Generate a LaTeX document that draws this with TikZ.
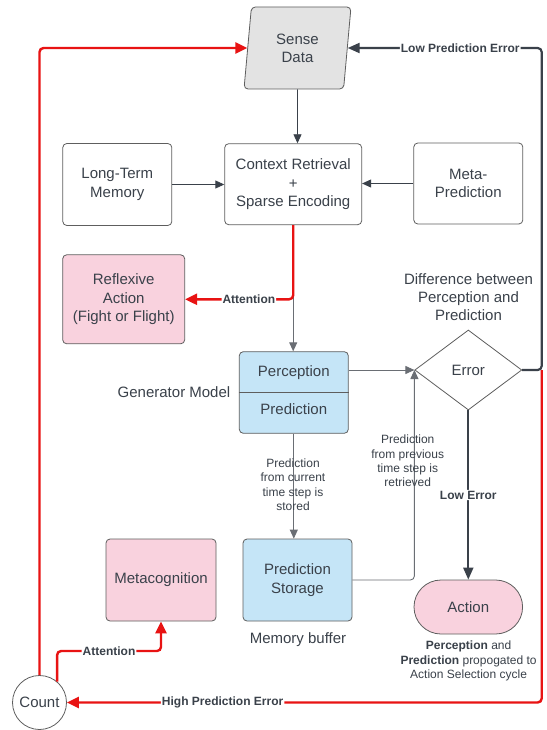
\documentclass[tikz,border=0pt]{standalone}
\usepackage{fontspec}
\setmainfont{Liberation Sans}
\usetikzlibrary{arrows.meta,shapes.geometric}
\definecolor{txt}{HTML}{3A414A}
\definecolor{ln}{HTML}{5E5E5E}
\definecolor{redl}{HTML}{E81313}
\definecolor{pinkf}{HTML}{F9D2DE}
\definecolor{bluef}{HTML}{C5E5F7}
\definecolor{grayf}{HTML}{E3E3E3}
\definecolor{darkl}{HTML}{3A414A}
\definecolor{thinl}{HTML}{6A6E74}
\tikzset{
 every node/.style={text=txt, font=\fontsize{15}{18.3}\selectfont},
 box/.style={draw=ln, line width=0.8pt, rounded corners=4pt, align=center, inner sep=0pt},
 dbox/.style={draw=ln, line width=0.8pt, align=center, inner sep=0pt},
 small/.style={font=\fontsize{12}{14.4}\selectfont, align=center},
 lbl/.style={font=\fontsize{12}{14.4}\selectfont\bfseries, fill=white, inner sep=1pt},
 thinarrow/.style={draw=thinl, line width=0.9pt, rounded corners=4pt, -{Triangle[length=9pt,width=8pt]}},
 redarrow/.style={draw=redl, line width=2.4pt, rounded corners=4pt, -{Triangle[length=12pt,width=11pt]}},
 darkarrow/.style={draw=darkl, line width=2.2pt, rounded corners=4pt, -{Triangle[length=12pt,width=10pt]}},
}
\begin{document}
\begin{tikzpicture}[x=1pt,y=-1pt]
\useasboundingbox[fill=white] (0,0) rectangle (546,730);

% nodes
\node[box, trapezium, trapezium left angle=75.6, trapezium right angle=104.4,
      trapezium stretches body, minimum width=107pt, minimum height=82pt, fill=grayf] (sense) at (297.5,48) {Sense\\Data};
\node[box, minimum width=109pt, minimum height=82pt] (ltm) at (117.3,184.5) {Long-Term\\Memory};
\node[box, minimum width=137pt, minimum height=81pt] (ctx) at (293.2,184.2) {Context Retrieval\\+\\Sparse Encoding};
\node[box, minimum width=109pt, minimum height=81pt] (meta) at (468.3,183.5) {Meta-\\Prediction};
\node[box, fill=pinkf, minimum width=122pt, minimum height=89pt] (reflex) at (123.7,299.3) {Reflexive\\Action\\(Fight or Flight)};
\node[align=center] (diff) at (468.5,297) {Difference between\\Perception and\\Prediction};
\node[box, fill=bluef, minimum width=109pt, minimum height=81.6pt] (gen) at (293.8,392.5) {};
\draw[draw=ln, line width=0.8pt] (gen.west) -- (gen.east);
\node (perc) at (293.8,373) {Perception};
\node (pred) at (293.8,409.3) {Prediction};
\node (genlbl) at (174,392.3) {Generator Model};
\node[dbox, diamond, minimum width=107pt, minimum height=80pt, fill=white] (err) at (468.3,370) {Error};
\node[box, fill=bluef, minimum width=109pt, minimum height=82pt] (store) at (297.5,580) {Prediction\\Storage};
\node (membuf) at (298,640) {Memory buffer};
\node[box, fill=pinkf, minimum width=110pt, minimum height=82pt] (metac) at (161,580) {Metacognition};
\node[box, fill=pinkf, rounded corners=27pt, minimum width=108.6pt, minimum height=54pt] (action) at (468.3,607) {Action};
\node[small] (acttxt) at (468.6,661) {\textbf{Perception} and\\\textbf{Prediction} propogated to\\Action Selection cycle};
\node[dbox, circle, minimum size=54pt, fill=white] (count) at (39.5,702.5) {Count};
\coordinate (rc) at (541.7,370);
\coordinate (attB) at (161,651);

% connectors
\draw[thinarrow, draw=darkl] (sense) -- (sense |- ctx.north);
\draw[thinarrow, draw=darkl] (ltm.east) -- (ltm.east -| ctx.west);
\draw[thinarrow, draw=darkl] (meta.west) -- (meta.west -| ctx.east);
\draw[thinarrow] (ctx.south) -- (ctx.south |- gen.north);
\draw[redarrow] (ctx.south) |- node[lbl, pos=0.705]{Attention} (reflex.east);
\draw[thinarrow] (gen.east |- err.west) -- (err.west);
\draw[thinarrow] (store.east) -| (err.west);
\draw[thinarrow] (gen.south) -- (gen.south |- store.north);
\draw[darkarrow, line width=1.8pt] (err.south) -- node[lbl]{Low Error} (action.north);
\draw[darkarrow] (err.east) -- (rc) |- node[lbl, pos=0.71]{Low Prediction Error} (sense);
\draw[redarrow] (rc) |- node[lbl, pos=0.836]{High Prediction Error} (count);
\draw[redarrow] (count.north) |- (sense);
\draw[redarrow] (count.50) |- node[lbl, pos=0.75]{Attention} (attB) -- (metac.south);

% free labels
\node[small] (lblcur) at (293,484.9) {Prediction\\from current\\time step is\\stored};
\node[small] (lblprev) at (407.7,461) {Prediction\\from previous\\time step is\\retrieved};
\end{tikzpicture}
\end{document}
